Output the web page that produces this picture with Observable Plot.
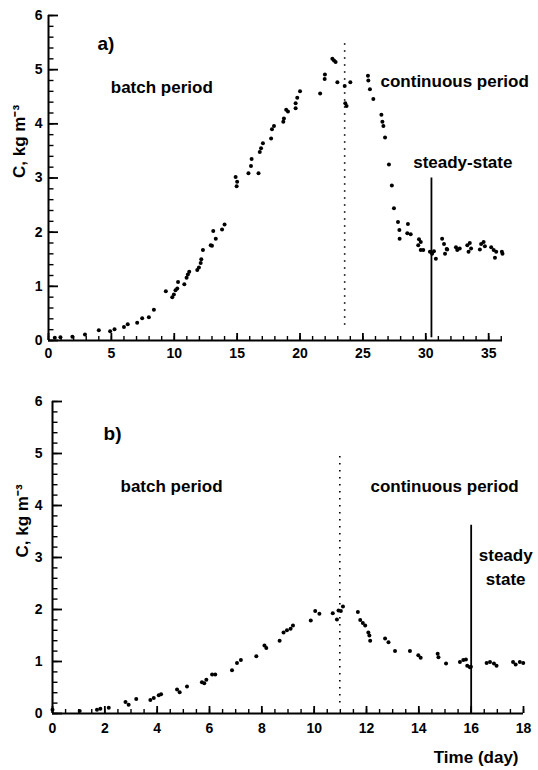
<!DOCTYPE html>
<html>
<head>
<meta charset="utf-8">
<script src="https://cdn.jsdelivr.net/npm/d3@7"></script>
<script src="https://cdn.jsdelivr.net/npm/@observablehq/plot@0.6"></script>
<style>
  html, body { margin: 0; padding: 0; background: #fff; }
  #chart { width: 538px; }
  #chart svg { display: block; }
</style>
</head>
<body>
<div id="chart"></div>
<script>
// ---- Panel a) data ----
const aDay = [0.5,0.95,1.9,2.9,4.0,4.9,5.25,6.0,6.3,7.05,7.45,7.98,8.38,9.33,9.84,9.97,10.1,10.24,10.3,10.8,10.98,11.08,11.19,11.83,11.96,12.1,12.15,12.28,12.9,13.0,13.1,13.3,13.8,14.0,14.88,14.96,15.0,15.9,16.1,16.15,16.7,16.8,16.9,17.05,17.7,17.77,17.93,18.67,18.72,18.9,19.04,19.65,19.65,19.78,20.0,21.6,21.96,21.98,22.57,22.7,22.83,22.97,23.55,23.6,23.7,24.0,25.4,25.43,25.56,25.83,26.47,26.55,26.63,26.76,27.07,27.3,27.47,27.79,27.9,27.92,28.58,28.53,28.8,29.46,29.6,29.4,29.6,29.8,30.33,30.5,30.65,30.8,31.3,31.45,31.66,31.53,31.7,32.4,32.5,32.7,33.3,33.5,33.4,33.6,34.3,34.4,34.6,34.7,35.2,35.4,35.5,35.6,36.05,36.1];
const aC   = [0.05,0.06,0.07,0.11,0.19,0.17,0.21,0.25,0.30,0.33,0.41,0.43,0.57,0.91,0.80,0.85,0.93,0.96,1.08,1.04,1.16,1.22,1.27,1.30,1.35,1.43,1.50,1.67,1.76,1.75,2.02,1.88,2.05,2.14,3.02,2.85,2.93,3.09,3.22,3.35,3.09,3.48,3.55,3.64,3.73,3.90,3.96,4.04,4.10,4.26,4.23,4.29,4.38,4.48,4.60,4.56,4.83,4.91,5.20,5.17,5.14,4.77,4.70,4.38,4.33,4.77,4.89,4.80,4.64,4.46,4.17,4.04,3.96,3.75,3.25,2.86,2.44,2.19,2.04,1.88,2.15,1.98,1.96,1.87,1.82,1.76,1.67,1.67,1.64,1.60,1.65,1.51,1.88,1.78,1.69,1.60,1.68,1.72,1.67,1.70,1.76,1.80,1.64,1.70,1.68,1.78,1.82,1.74,1.72,1.67,1.53,1.64,1.64,1.60];

// ---- Panel b) data ----
const bDay = [0.0,1.04,1.7,1.83,2.15,2.79,2.91,3.2,3.74,3.87,4.06,4.15,4.76,4.86,5.14,5.71,5.8,5.88,6.1,6.22,6.86,7.05,7.2,7.79,8.1,8.17,8.68,8.83,8.96,9.1,9.19,9.87,10.04,10.2,10.71,10.87,10.93,11.02,11.1,11.67,11.76,11.86,11.95,12.07,12.11,12.14,12.71,12.84,13.09,13.66,13.98,14.07,14.72,14.75,15.04,15.57,15.7,15.8,15.85,15.95,15.99,16.59,16.72,16.87,16.97,17.6,17.7,17.86,17.99];
const bC   = [0.07,0.05,0.07,0.09,0.11,0.22,0.17,0.28,0.26,0.30,0.35,0.37,0.46,0.41,0.52,0.60,0.58,0.65,0.75,0.75,0.83,0.97,1.03,1.10,1.31,1.26,1.40,1.56,1.60,1.63,1.69,1.79,1.97,1.92,1.93,1.81,1.98,1.97,2.06,1.95,1.80,1.74,1.69,1.56,1.50,1.40,1.44,1.37,1.20,1.20,1.12,1.07,1.15,1.08,0.96,0.99,1.03,1.04,0.92,0.89,0.90,0.97,0.99,0.96,0.92,0.99,0.94,0.99,0.97];

// ---- ticks ----
const yTicks = [0,1,2,3,4,5,6];
const xTicksA = [0,5,10,15,20,25,30,35];
const xTicksB = [0,2,4,6,8,10,12,14,16,18];

// ---- period markers ----
const aBatchEnd = [23.55];     // dotted line, panel a
const aSteady = [30.45];       // solid line, panel a
const bBatchEnd = [10.98];     // dotted line, panel b
const bSteady = [16.0];        // solid line, panel b

// ---- annotations ----
const aNotes = [
  {x: 3.9, y: 5.48, text: "a)", size: 19},
  {x: 4.95, y: 4.67, text: "batch period", size: 17},
  {x: 26.4, y: 4.78, text: "continuous period", size: 17},
  {x: 29.0, y: 3.29, text: "steady-state", size: 17}
];
const bNotes = [
  {x: 1.95, y: 5.38, text: "b)", size: 19},
  {x: 2.6, y: 4.37, text: "batch period", size: 17},
  {x: 12.15, y: 4.37, text: "continuous period", size: 17}
];
const bSteadyNote = [{x: 17.32, y: 2.85, text: "steady\nstate"}];
const yLabel = "C, kg m\u207B\u00B3";
const xLabel = "Time (day)";

const font = "'Liberation Sans', Arial, Helvetica, sans-serif";

function panel(o) {
  const fw = o.width - o.ml - o.mr;
  const fh = o.height - o.mt - o.mb;
  const x0 = o.xDomain[0];
  const pxPerX = fw / (o.xDomain[1] - o.xDomain[0]);
  const pxPerY = fh / 6;
  const xMinor = d3.range(o.xDomain[0], o.xDomain[1] + 1e-9, o.xMinorStep);
  const yMinor = d3.range(0, 6.0001, 0.2);
  const pts = o.days.map((d, i) => ({day: d, c: o.vals[i]}));
  return Plot.plot({
    width: o.width, height: o.height,
    marginTop: o.mt, marginBottom: o.mb, marginLeft: o.ml, marginRight: o.mr,
    style: {fontFamily: font, fontWeight: "bold", fontSize: "14px", color: "#000", background: "#fff"},
    x: {domain: o.xDomain},
    y: {domain: [0, 6]},
    marks: [
      Plot.axisX({ticks: o.xTicks, tickSize: 0, tickPadding: o.xTicksPad, label: null, tickFormat: d => String(d)}),
      Plot.axisY({ticks: yTicks, tickSize: 0, tickPadding: o.yTicksPad, label: null, tickFormat: d => String(d)}),
      // inward minor / major ticks (pixel lengths converted to data units)
      Plot.ruleY(yMinor, {y: d => d, x1: x0, x2: x0 + 5.5 / pxPerX, stroke: "#000", strokeWidth: 1.4}),
      Plot.ruleY(yTicks, {y: d => d, x1: x0, x2: x0 + 10 / pxPerX, stroke: "#000", strokeWidth: 1.8}),
      Plot.ruleX(xMinor, {x: d => d, y1: 0, y2: 4 / pxPerY, stroke: "#000", strokeWidth: 1.4}),
      Plot.ruleX(o.xTicks, {x: d => d, y1: 0, y2: 7 / pxPerY, stroke: "#000", strokeWidth: 1.8}),
      Plot.ruleX([x0], {stroke: "#000", strokeWidth: 2}),
      Plot.ruleY([0], {stroke: "#000", strokeWidth: 2}),
      Plot.ruleX(o.batchEnd, {x: d => d, y1: o.batchY[0], y2: o.batchY[1], stroke: "#000", strokeWidth: 1.6, strokeDasharray: "1.6,5.4"}),
      Plot.ruleX(o.steady, {x: d => d, y1: o.steadyY[0], y2: o.steadyY[1], stroke: "#000", strokeWidth: 1.8}),
      Plot.dot(pts, {x: "day", y: "c", r: 2, fill: "#000", stroke: "none"}),
      Plot.text(o.notes, {x: "x", y: "y", text: "text", fontSize: d => d.size, fontWeight: "bold", textAnchor: "start", fill: "#000"}),
      Plot.text([yLabel], {text: d => d, frameAnchor: "left", rotate: -90, dx: o.ylabelDx, fontSize: 17, fontWeight: "bold", fill: "#000"}),
      ...o.extra
    ]
  });
}

const panelA = panel({
  width: 538, height: 365, mt: 15, mb: 25, ml: 48, mr: 36,
  xDomain: [0, 36.1], xTicks: xTicksA, xMinorStep: 1, xTicksPad: 8, yTicksPad: 6,
  days: aDay, vals: aC,
  batchEnd: aBatchEnd, batchY: [0.28, 5.5],
  steady: aSteady, steadyY: [0.05, 3.0],
  notes: aNotes, extra: [], ylabelDx: -29
});

const panelB = panel({
  width: 538, height: 405, mt: 36, mb: 57, ml: 52, mr: 15,
  xDomain: [0, 18], xTicks: xTicksB, xMinorStep: 0.5, xTicksPad: 10, yTicksPad: 10,
  days: bDay, vals: bC,
  batchEnd: bBatchEnd, batchY: [0.2, 5.0],
  steady: bSteady, steadyY: [0, 3.62],
  notes: bNotes, ylabelDx: -30,
  extra: [
    Plot.text(bSteadyNote, {x: "x", y: "y", text: "text", fontSize: 17, fontWeight: "bold", textAnchor: "middle", lineHeight: 1.4, fill: "#000"}),
    Plot.text([xLabel], {text: d => d, frameAnchor: "bottom-right", dx: -5, dy: 49, fontSize: 17, fontWeight: "bold", textAnchor: "end", fill: "#000"})
  ]
});

document.getElementById("chart").append(panelA, panelB);
</script>
</body>
</html>
